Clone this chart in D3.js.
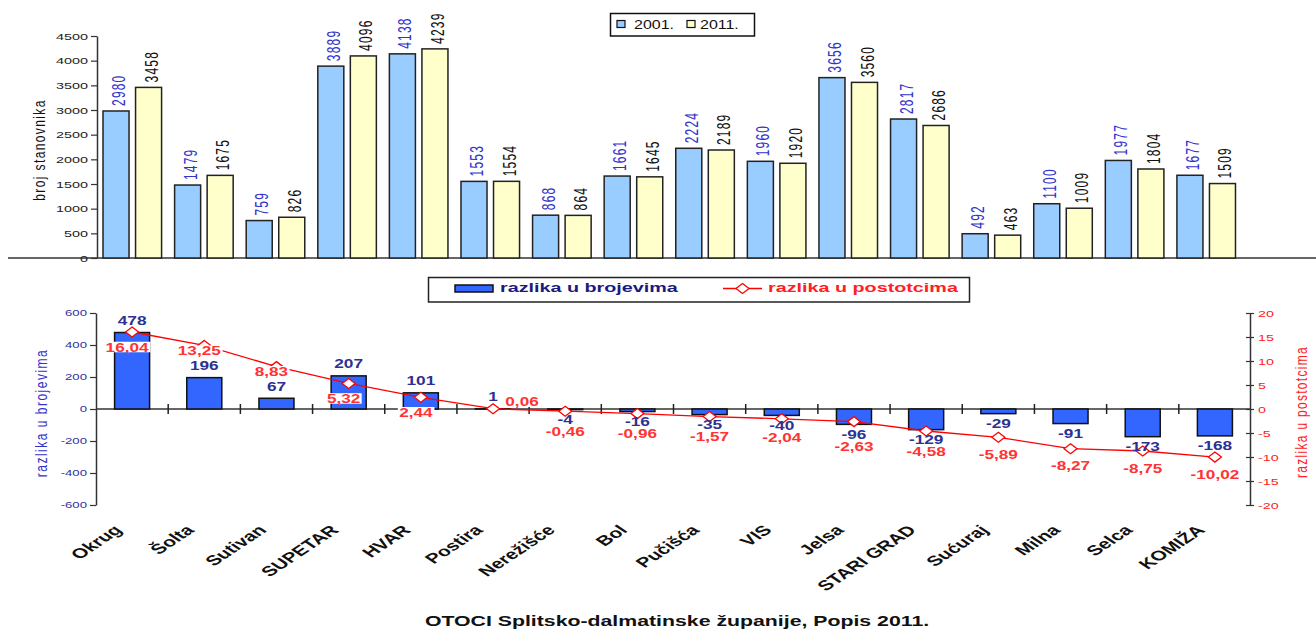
<!DOCTYPE html>
<html><head><meta charset="utf-8">
<script src="https://cdn.jsdelivr.net/npm/d3@7"></script>
<style>
body{margin:0;background:#fff}
svg{display:block}
text{font-family:"Liberation Sans",Arial,sans-serif}
</style>
</head><body>
<svg id="c" width="1316" height="630"></svg>
<script>
// ---------- data ----------
const categories = ["Okrug","Šolta","Sutivan","SUPETAR","HVAR","Postira","Nerežišće","Bol","Pučišća","VIS","Jelsa","STARI GRAD","Sućuraj","Milna","Selca","KOMIŽA"];
const pop2001 = [2980,1479,759,3889,4138,1553,868,1661,2224,1960,3656,2817,492,1100,1977,1677];
const pop2011 = [3458,1675,826,4096,4239,1554,864,1645,2189,1920,3560,2686,463,1009,1804,1509];
const diffCount = [478,196,67,207,101,1,-4,-16,-35,-40,-96,-129,-29,-91,-173,-168];
const diffPct = [16.04,13.25,8.83,5.32,2.44,0.06,-0.46,-0.96,-1.57,-2.04,-2.63,-4.58,-5.89,-8.27,-8.75,-10.02];
const popTicks = [0,500,1000,1500,2000,2500,3000,3500,4000,4500];
const countTicks = [-600,-400,-200,0,200,400,600];
const pctTicks = [-20,-15,-10,-5,0,5,10,15,20];
const seriesNames = ["2001.","2011."];
const legendBottom = ["razlika u brojevima","razlika u postotcima"];
const titleTop = "broj stanovnika";
const titleLeft = "razlika u brojevima";
const titleRight = "razlika u postotcima";
const footer = "OTOCI Splitsko-dalmatinske županije, Popis 2011.";

// ---------- helpers ----------
const svg = d3.select("#c");
function label(sel, x, y, s, o) {
  const t = sel.append("text")
    .attr("transform", `translate(${x},${y}) scale(${o.sx||1},1)` + (o.rot ? ` rotate(${o.rot})` : ""))
    .attr("font-size", o.size).attr("font-weight", o.weight || "normal")
    .attr("fill", o.fill || "#000").attr("text-anchor", o.anchor || "start")
    .text(s);
  if (o.ls) t.attr("letter-spacing", o.ls);
  return t;
}
const plain = v => String(v);
const fmtPct = v => v.toFixed(2).replace(".", ",");

// ---------- top chart ----------
const yTop = d3.scaleLinear().domain([0, 4500]).range([258, 36]);
const xTop = d3.scaleBand().domain(categories).range([96.5, 1242]);
const xSer = d3.scaleBand().domain(["a","b"]).range([0, xTop.bandwidth()]).paddingInner(0.2).paddingOuter(0.2);

const gTop = svg.append("g");
gTop.append("line").attr("x1", 8).attr("x2", 1316).attr("y1", yTop(0)).attr("y2", yTop(0))
  .attr("stroke", "#333").attr("stroke-width", 1.5);

const axTop = gTop.append("g").attr("transform", "translate(97,0)")
  .call(d3.axisLeft(yTop).tickValues(popTicks).tickFormat(plain).tickSize(6).tickSizeOuter(0).tickPadding(0));
axTop.select(".domain").attr("stroke", "#333").attr("stroke-width", 1.5);
axTop.selectAll(".tick line").attr("stroke", "#333").attr("stroke-width", 1.2);
axTop.selectAll(".tick text").attr("font-size", 9).attr("fill", "#222")
  .attr("x", -9 / 1.6).attr("dy", "0.35em").attr("transform", "scale(1.6,1)")
  .style("font-family", '"Liberation Sans",Arial,sans-serif');

label(gTop, 45, 150, titleTop, {size: 12, sx: 1.3, rot: -90, anchor: "middle", ls: 1.4, fill: "#111"});

const series = [
  {vals: pop2001, key: "a", fill: "#99ccff", lab: "#3333cc"},
  {vals: pop2011, key: "b", fill: "#ffffcc", lab: "#111"}
];
series.forEach(s => {
  gTop.append("g").selectAll("rect").data(categories).join("rect")
    .attr("x", c => xTop(c) + xSer(s.key))
    .attr("width", xSer.bandwidth())
    .attr("y", (c, i) => yTop(s.vals[i]))
    .attr("height", (c, i) => yTop(0) - yTop(s.vals[i]))
    .attr("fill", s.fill).attr("stroke", "#222").attr("stroke-width", 1.5);
  categories.forEach((c, i) => {
    const cx = xTop(c) + xSer(s.key) + xSer.bandwidth() / 2;
    label(gTop, cx + 9, yTop(s.vals[i]) - 5, String(s.vals[i]),
      {size: 12, sx: 1.5, rot: -90, fill: s.lab, ls: 1.2});
  });
});

// top legend
const lg = gTop.append("g");
lg.append("rect").attr("x", 610.5).attr("y", 13.5).attr("width", 144).attr("height", 22.5)
  .attr("fill", "#fff").attr("stroke", "#111").attr("stroke-width", 1.5);
[[617, 634, "#99ccff"], [687, 700, "#ffffcc"]].forEach((p, i) => {
  lg.append("rect").attr("x", p[0]).attr("y", 20.5).attr("width", 8).attr("height", 7)
    .attr("fill", p[2]).attr("stroke", "#111").attr("stroke-width", 1.2);
  label(lg, p[1], 28.5, seriesNames[i], {size: 12.5, sx: 1.28, fill: "#111"});
});

// ---------- bottom chart ----------
const yCnt = d3.scaleLinear().domain([-600, 600]).range([505, 313]);
const yPct = d3.scaleLinear().domain([-20, 20]).range([505, 313]);
const xB = d3.scaleBand().domain(categories).range([96, 1251]);
const bw = xB.bandwidth() * 0.485;
const cxB = c => xB(c) + xB.bandwidth() / 2;

const bot = svg.append("g");

bot.append("line").attr("x1", 96).attr("x2", 1250).attr("y1", yCnt(0)).attr("y2", yCnt(0))
  .attr("stroke", "#333").attr("stroke-width", 1.5);
bot.append("g").selectAll("line").data(categories.slice(1)).join("line")
  .attr("x1", c => xB(c)).attr("x2", c => xB(c))
  .attr("y1", yCnt(0) - 5).attr("y2", yCnt(0) + 5)
  .attr("stroke", "#222").attr("stroke-width", 1.5);

const axL = bot.append("g").attr("transform", "translate(96,0)")
  .call(d3.axisLeft(yCnt).tickValues(countTicks).tickFormat(plain).tickSize(6).tickSizeOuter(0).tickPadding(0));
axL.select(".domain").attr("stroke", "#333").attr("stroke-width", 1.5);
axL.selectAll(".tick line").attr("stroke", "#333").attr("stroke-width", 1.2);
axL.selectAll(".tick text").attr("font-size", 8.5).attr("fill", "#333399")
  .attr("x", -9 / 1.55).attr("dy", "0.35em").attr("transform", "scale(1.55,1)")
  .style("font-family", '"Liberation Sans",Arial,sans-serif');

const axR = bot.append("g").attr("transform", "translate(1250,0)")
  .call(d3.axisRight(yPct).tickValues(pctTicks).tickFormat(plain).tickSize(4).tickSizeOuter(0).tickPadding(0));
axR.select(".domain").attr("stroke", "#333").attr("stroke-width", 1.5);
axR.selectAll(".tick line").attr("x1", -4).attr("stroke", "#333").attr("stroke-width", 1.2);
axR.selectAll(".tick text").attr("font-size", 9.5).attr("fill", "#ff2020")
  .attr("x", 8 / 1.5).attr("dy", "0.35em").attr("transform", "scale(1.5,1)")
  .style("font-family", '"Liberation Sans",Arial,sans-serif');

label(bot, 47, 413, titleLeft, {size: 12, sx: 1.3, rot: -90, anchor: "middle", ls: 1.5, fill: "#3333cc"});
label(bot, 1307, 412, titleRight, {size: 12, sx: 1.3, rot: -90, anchor: "middle", ls: 1.3, fill: "#ff2020"});

bot.append("g").selectAll("rect").data(categories).join("rect")
  .attr("x", c => cxB(c) - bw / 2).attr("width", bw)
  .attr("y", (c, i) => yCnt(Math.max(0, diffCount[i])))
  .attr("height", (c, i) => Math.abs(yCnt(diffCount[i]) - yCnt(0)))
  .attr("fill", "#3366ff").attr("stroke", "#111").attr("stroke-width", 1.5);

const line = d3.line().x((d, i) => cxB(categories[i])).y(d => yPct(d));
bot.append("path").datum(diffPct).attr("d", line)
  .attr("fill", "none").attr("stroke", "#ff0000").attr("stroke-width", 1.3);
const diamond = "M0,-5L6.5,0L0,5L-6.5,0Z";
bot.append("g").selectAll("path").data(diffPct).join("path")
  .attr("d", diamond)
  .attr("transform", (d, i) => `translate(${cxB(categories[i])},${yPct(d)})`)
  .attr("fill", "#fff").attr("stroke", "#ff0000").attr("stroke-width", 1.3);

// count label centres
const cntY = diffCount.map(v => v >= 0 ? yCnt(v) - 12 : yCnt(v) + 10);

// percent labels with white background
categories.forEach((c, i) => {
  const p = diffPct[i];
  const mx = cxB(c), my = yPct(p);
  let cx, cy;
  if (Math.abs(p) < 0.1) { cx = mx + 29; cy = my - 7; }
  else if (p > 0) {
    cx = mx - 5;
    cy = cntY[i] > my + 10 ? Math.min(my + 11, cntY[i] - 15) : my + 15;
  }
  else { cx = mx; cy = Math.max(my + 17, cntY[i] + 12); }
  const g = bot.append("g").attr("transform", `translate(${cx},${cy + 4.7}) scale(1.32,1)`);
  const t = g.append("text").attr("font-size", 13).attr("font-weight", "bold")
    .attr("fill", "#ff3333").attr("text-anchor", "middle").text(fmtPct(p));
  const bb = t.node().getBBox();
  g.insert("rect", "text").attr("x", bb.x - 1).attr("y", bb.y + 2)
    .attr("width", bb.width + 2).attr("height", bb.height - 4).attr("fill", "#fff");
});

categories.forEach((c, i) => {
  label(bot, cxB(c), cntY[i] + 4.5, String(diffCount[i]), {size: 12.5, weight: "bold", sx: 1.38, anchor: "middle", fill: "#2e3192"});
});

const lb = bot.append("g");
lb.append("rect").attr("x", 428.5).attr("y", 277.5).attr("width", 541).attr("height", 24.5)
  .attr("fill", "#fff").attr("stroke", "#222").attr("stroke-width", 1.5);
lb.append("rect").attr("x", 455).attr("y", 285).attr("width", 38).attr("height", 7)
  .attr("fill", "#3366ff").attr("stroke", "#111").attr("stroke-width", 1.5);
label(lb, 500, 292, legendBottom[0], {size: 13, weight: "bold", sx: 1.52, fill: "#1a1a80"});
lb.append("line").attr("x1", 723).attr("x2", 762).attr("y1", 288.5).attr("y2", 288.5)
  .attr("stroke", "#ff0000").attr("stroke-width", 1.3);
lb.append("path").attr("d", diamond).attr("transform", "translate(742.5,288.5)")
  .attr("fill", "#fff").attr("stroke", "#ff0000").attr("stroke-width", 1.3);
label(lb, 768, 292, legendBottom[1], {size: 13, weight: "bold", sx: 1.52, fill: "#ff2020"});

categories.forEach(c => {
  label(bot, cxB(c) - 9, 531, c, {size: 14, weight: "bold", sx: 1.5, rot: -45, anchor: "end", fill: "#111"});
});

label(svg, 677, 626, footer, {size: 14, weight: "bold", sx: 1.52, anchor: "middle", fill: "#111"});
</script>
</body></html>
